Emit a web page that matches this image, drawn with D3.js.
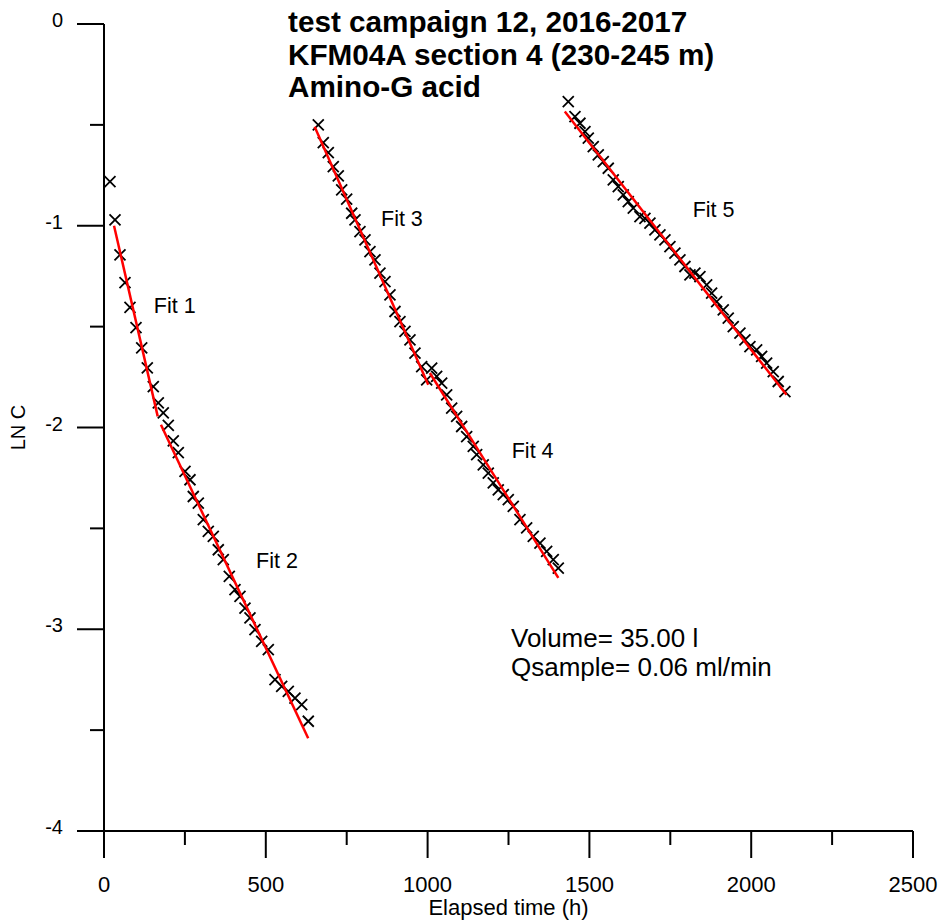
<!DOCTYPE html>
<html><head><meta charset="utf-8">
<script src="https://cdn.jsdelivr.net/npm/d3@7"></script>
<style>body{margin:0;background:#fff}svg{display:block}text{font-family:"Liberation Sans",Arial,sans-serif}</style>
</head><body>
<svg id="c" width="944" height="922"></svg>
<script>
const titleLines = ["test campaign 12, 2016-2017", "KFM04A section 4 (230-245 m)", "Amino-G acid"];
const xTicks = [0, 500, 1000, 1500, 2000, 2500];
const yTicks = [0, -1, -2, -3, -4];
const xLabel = "Elapsed time (h)";
const yLabel = "LN C";
const infoLines = ["Volume= 35.00 l", "Qsample= 0.06 ml/min"];

const obsT = [18.5,34,49.4,64.9,80.3,98.9,116.5,133.8,152.3,167.8,183.2,198.7,214.1,229.6,
 250.3,265.7,275.9,291.4,306.8,322.3,337.7,353.2,368.6,387.2,404.8,420.2,435.7,451.1,466.6,487.3,507.7,528.4,549.1,569.5,590.2,610.9,631.3,
 662.2,677.6,693.1,708.5,724.0,734.5,749.9,765.4,775.6,791.0,806.5,821.9,837.4,852.8,868.3,883.7,899.2,914.6,930.1,945.5,961.0,981.7,997.1,
 1012.6,1028.0,1043.5,1058.9,1074.4,1089.8,1105.3,1120.7,1141.1,1151.6,1172.0,1187.5,1202.9,1218.4,1233.8,1249.3,1264.7,1285.4,1306.1,1326.5,1347.2,1367.9,1388.3,1403.8,
 1434.7,1455.4,1470.8,1486.3,1496.5,1511.9,1527.4,1542.8,1558.3,1573.7,1589.2,1604.6,1620.1,1635.5,1656.2,1671.6,1687.1,1702.5,1718.0,1733.4,1748.9,1764.3,1779.8,1795.2,1810.7,1826.1,1841.6,1862.3,1877.7,1893.2,1913.6,1929.0,1944.5,1965.2,1980.6,1996.1,2016.8,2032.2,2047.7,2068.1,2083.5,2104.2];
const obsLnC = [-0.781,-0.971,-1.144,-1.282,-1.405,-1.505,-1.605,-1.704,-1.797,-1.878,-1.927,-1.990,-2.066,-2.125,
 -2.218,-2.259,-2.342,-2.375,-2.457,-2.515,-2.540,-2.606,-2.655,-2.738,-2.804,-2.837,-2.895,-2.944,-3.002,-3.060,-3.101,-3.250,-3.283,-3.308,-3.341,-3.374,-3.456,
 -0.500,-0.588,-0.638,-0.707,-0.753,-0.822,-0.868,-0.938,-0.971,-1.029,-1.070,-1.128,-1.169,-1.235,-1.277,-1.343,-1.425,-1.475,-1.524,-1.566,-1.631,-1.698,-1.764,
 -1.706,-1.747,-1.780,-1.838,-1.904,-1.945,-1.995,-2.045,-2.094,-2.135,-2.185,-2.226,-2.275,-2.309,-2.333,-2.358,-2.391,-2.457,-2.498,-2.540,-2.573,-2.614,-2.655,-2.697,
 -0.385,-0.459,-0.492,-0.534,-0.566,-0.608,-0.649,-0.682,-0.715,-0.773,-0.806,-0.847,-0.880,-0.913,-0.955,-0.963,-0.987,-1.021,-1.045,-1.070,-1.103,-1.136,-1.169,-1.202,-1.244,-1.235,-1.252,-1.293,-1.334,-1.376,-1.417,-1.458,-1.500,-1.532,-1.566,-1.599,-1.615,-1.648,-1.681,-1.723,-1.772,-1.822];

const fitNames = ["Fit 1","Fit 2","Fit 3","Fit 4","Fit 5"];
const fitT0 = [31, 176, 651, 1007, 1424];
const fitT1 = [166, 631, 1002, 1404, 2109];
const fitV0 = [-1.00, -1.986, -0.509, -1.73, -0.434];
const fitV1 = [-1.945, -3.54, -1.788, -2.745, -1.838];
const fitLabelT = [154, 470, 856, 1260, 1819];
const fitLabelV = [-1.43, -2.695, -1.00, -2.15, -0.958];

const svg = d3.select("#c");
const x = d3.scaleLinear().domain([0, 2500]).range([104, 913]);
const y = d3.scaleLinear().domain([-4, 0]).range([831, 24]);

// axes
const xAxis = svg.append("g");
xAxis.append("line").attr("x1", 77).attr("x2", x(2500)).attr("y1", y(-4)).attr("y2", y(-4)).attr("stroke","#000").attr("stroke-width",2);
d3.range(0, 2501, 250).forEach(t => {
  const major = t % 500 === 0;
  xAxis.append("line").attr("x1", x(t)).attr("x2", x(t)).attr("y1", y(-4)).attr("y2", y(-4) + (major ? 27 : 14)).attr("stroke","#000").attr("stroke-width",2);
});
xTicks.forEach(t => {
  xAxis.append("text").attr("x", x(t)).attr("y", 892).attr("text-anchor","middle").attr("font-size",22).text(t);
});
xAxis.append("text").attr("x", x(1250)).attr("y", 915).attr("text-anchor","middle").attr("font-size",22).text(xLabel);

const yAxis = svg.append("g");
yAxis.append("line").attr("x1", x(0)).attr("x2", x(0)).attr("y1", y(0)).attr("y2", y(-4)).attr("stroke","#000").attr("stroke-width",2);
d3.range(0, -4.01, -0.5).forEach(v => {
  const major = Math.abs(v % 1) < 1e-9;
  yAxis.append("line").attr("x1", x(0) - (major ? 27 : 14)).attr("x2", x(0)).attr("y1", y(v)).attr("y2", y(v)).attr("stroke","#000").attr("stroke-width",2);
});
yTicks.forEach(v => {
  yAxis.append("text").attr("x", 63).attr("y", y(v) + 3).attr("text-anchor","end").attr("font-size",20).text(v);
});
yAxis.append("text").attr("transform", `translate(25,${y(-2)}) rotate(-90)`).attr("text-anchor","middle").attr("font-size",20).text(yLabel);

// markers
const obs = obsT.map((t, i) => ({t, v: obsLnC[i]}));
const s = 5.5;
svg.append("g").selectAll("path").data(obs).join("path")
  .attr("d", d => { const cx = x(d.t), cy = y(d.v); return `M${cx-s},${cy-s}L${cx+s},${cy+s}M${cx-s},${cy+s}L${cx+s},${cy-s}`; })
  .attr("stroke","#000").attr("stroke-width",1.8).attr("fill","none");

// fits
const fits = fitNames.map((n, i) => ({n, t0: fitT0[i], t1: fitT1[i], v0: fitV0[i], v1: fitV1[i], lt: fitLabelT[i], lv: fitLabelV[i]}));
svg.append("g").selectAll("line").data(fits).join("line")
  .attr("x1", d => x(d.t0)).attr("y1", d => y(d.v0)).attr("x2", d => x(d.t1)).attr("y2", d => y(d.v1))
  .attr("stroke","#ff0000").attr("stroke-width",2.5);
svg.append("g").selectAll("text").data(fits).join("text")
  .attr("x", d => x(d.lt)).attr("y", d => y(d.lv)).attr("font-size",21.5).text(d => d.n);

// info
infoLines.forEach((s2, i) => {
  svg.append("text").attr("x", 511).attr("y", 647 + i * 29).attr("font-size",26).text(s2);
});

// title
titleLines.forEach((s2, i) => {
  svg.append("text").attr("x", 288).attr("y", 32 + i * 32.5).attr("font-size",29.7).attr("font-weight","bold").text(s2);
});
</script>
</body></html>
